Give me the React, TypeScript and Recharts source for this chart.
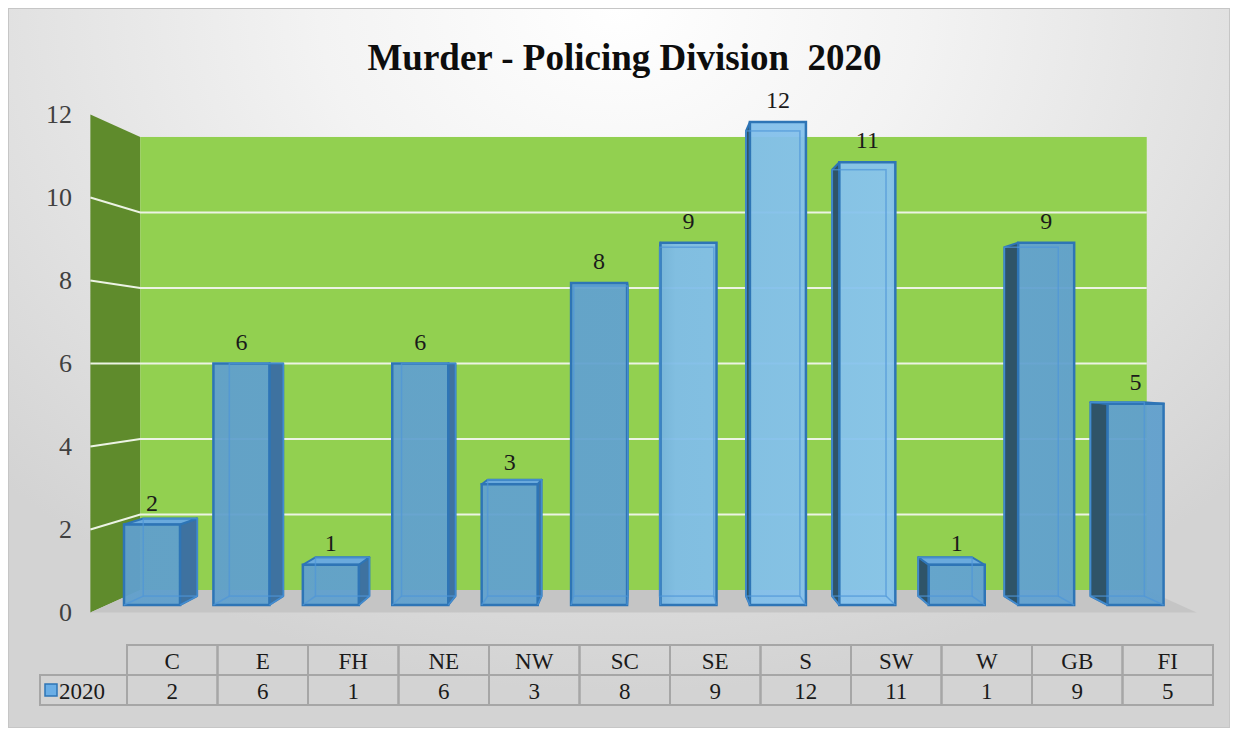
import React from 'react';
import { ComposedChart, Bar, XAxis, YAxis, LabelList, ReferenceArea } from 'recharts';

// Murder counts per policing division, 2020
const divisions = ['C', 'E', 'FH', 'NE', 'NW', 'SC', 'SE', 'S', 'SW', 'W', 'GB', 'FI'];
const murders2020 = [2, 6, 1, 6, 3, 8, 9, 12, 11, 1, 9, 5];
const yTicks = [0, 2, 4, 6, 8, 10, 12];
const seriesName = '2020';
const chartTitle = 'Murder - Policing Division  2020';

const data = divisions.map((division, i) => ({ division, value: murders2020[i] }));

// layout
const W = 1222;
const H = 720;
const MARGIN = { top: 114, right: 17, bottom: 0, left: 0 };
const Y_W = 99;
const X_H = 123;
const BAR_PAD_R = 33;
const TABLE_PAD_L = 20;

const BAR_LEFT = MARGIN.left + Y_W;
const BAR_RIGHT = W - MARGIN.right - BAR_PAD_R;
const PLOT_BOTTOM = H - MARGIN.bottom - X_H;
const CX = (BAR_LEFT + BAR_RIGHT) / 2;
const CY = (MARGIN.top + PLOT_BOTTOM) / 2;
const TABLE_LEFT = BAR_LEFT + TABLE_PAD_L;
const COL_W = (W - MARGIN.right - TABLE_LEFT) / divisions.length;

// perspective factors relative to the bar front plane
const FRONT = 1.031;
const BACK = 0.938;
const BAR_DEPTH = 0.963;

const FONT = 'Liberation Serif';

const persp = (x: number, y: number, k: number): [number, number] => [CX + (x - CX) * k, CY + (y - CY) * k];
const pts = (arr: [number, number][]) => arr.map((p) => p.join(',')).join(' ');
const ok = (v: any, fb: number) => (Number.isFinite(v) ? v : fb);

const Walls = (props: any) => {
  const x = ok(props.x, BAR_LEFT);
  const y = ok(props.y, MARGIN.top);
  const width = ok(props.width, BAR_RIGHT - BAR_LEFT);
  const height = ok(props.height, PLOT_BOTTOM - MARGIN.top);
  const fTL = persp(x, y, FRONT);
  const fBL = persp(x, y + height, FRONT);
  const fBR = persp(x + width, y + height, FRONT);
  const bTL = persp(x, y, BACK);
  const bTR = persp(x + width, y, BACK);
  const bBL = persp(x, y + height, BACK);
  const bBR = persp(x + width, y + height, BACK);
  return (
    <g>
      <defs>
        <linearGradient id="barFront" gradientUnits="userSpaceOnUse" x1={BAR_LEFT} x2={BAR_RIGHT} y1={0} y2={0}>
          <stop offset="0" stopColor="#609FCC" />
          <stop offset="0.49" stopColor="#62A2CF" />
          <stop offset="0.53" stopColor="#80BDE8" />
          <stop offset="0.73" stopColor="#88C4EE" />
          <stop offset="0.76" stopColor="#63A3D2" />
          <stop offset="1" stopColor="#609FCC" />
        </linearGradient>
      </defs>
      <polygon points={pts([fTL, bTL, bBL, fBL])} fill="#5F8B2C" />
      <rect x={bTL[0]} y={bTL[1]} width={bTR[0] - bTL[0]} height={bBL[1] - bTL[1]} fill="#92D050" />
      <polygon points={pts([fBL, bBL, bBR, fBR])} fill="#C5C5C5" />
      {yTicks
        .filter((v) => v > 0 && v < 12)
        .map((v) => {
          const yy = y + height * (1 - v / 12);
          const a = persp(x, yy, FRONT);
          const b = persp(x, yy, BACK);
          const c = persp(x + width, yy, BACK);
          return (
            <polyline key={v} points={pts([a, b, c])} fill="none" stroke="#ECF3E4" strokeWidth={2} />
          );
        })}
    </g>
  );
};

const Bar3D = (props: any) => {
  const { x, y, width, height } = props;
  if (!width || height == null) return null;
  const L = x;
  const R = x + width;
  const T = y;
  const B = y + height;
  const [bL, bT] = persp(L, T, BAR_DEPTH);
  const [bR, bB] = persp(R, B, BAR_DEPTH);
  const edge = '#2E75B6';
  return (
    <g>
      {bR > R && (
        <polygon points={pts([[R, T], [bR, bT], [bR, bB], [R, B]])} fill="#3E72A0" stroke={edge} strokeWidth={2} strokeLinejoin="round" />
      )}
      {bL < L && (
        <polygon points={pts([[L, T], [bL, bT], [bL, bB], [L, B]])} fill="#2F5468" stroke={edge} strokeWidth={2} strokeLinejoin="round" />
      )}
      {bT < T && (
        <polygon points={pts([[L, T], [R, T], [bR, bT], [bL, bT]])} fill="#6AAADD" stroke={edge} strokeWidth={2} strokeLinejoin="round" />
      )}
      <rect x={L} y={T} width={width} height={height} fill="url(#barFront)" fillOpacity={0.95} stroke={edge} strokeWidth={2.5} />
      <rect x={bL} y={bT} width={bR - bL} height={bB - bT} fill="none" stroke="#4F96D8" strokeOpacity={0.7} strokeWidth={1.5} />
      <line x1={L} y1={B} x2={bL} y2={bB} stroke="#4F96D8" strokeOpacity={0.7} strokeWidth={1.5} />
      <line x1={R} y1={B} x2={bR} y2={bB} stroke="#4F96D8" strokeOpacity={0.7} strokeWidth={1.5} />
    </g>
  );
};

const YTick = (props: any) => {
  const { y, payload } = props;
  const [, fy] = persp(0, y, FRONT);
  return (
    <text x={64} y={fy} textAnchor="end" dominantBaseline="central" style={{ fontFamily: FONT, fontSize: 26, fill: '#404040' }}>
      {payload.value}
    </text>
  );
};

const BarLabel = (props: any) => {
  const { x, y, width, value } = props;
  return (
    <text x={x + width / 2} y={y - 14} textAnchor="middle" style={{ fontFamily: FONT, fontSize: 24, fill: '#1A1A1A' }}>
      {value}
    </text>
  );
};

const TableCell = (props: any) => {
  const { x, y, payload, index } = props;
  const left = x - COL_W / 2;
  const border = '#A6A6A6';
  const txtStyle = { fontFamily: FONT, fontSize: 23, fill: '#1A1A1A' };
  return (
    <g>
      <rect x={left} y={y + 40} width={COL_W} height={30} fill="none" stroke={border} strokeWidth={2} />
      <rect x={left} y={y + 70} width={COL_W} height={30} fill="none" stroke={border} strokeWidth={2} />
      <text x={x} y={y + 56} textAnchor="middle" dominantBaseline="central" style={txtStyle}>{payload.value}</text>
      <text x={x} y={y + 86} textAnchor="middle" dominantBaseline="central" style={txtStyle}>{murders2020[index]}</text>
      {index === 0 && (
        <g>
          <rect x={32} y={y + 70} width={left - 32} height={30} fill="none" stroke={border} strokeWidth={2} />
          <rect x={37} y={y + 79} width={12} height={12} fill="#6AAEE6" stroke="#2E75B6" strokeWidth={1.5} />
          <text x={51} y={y + 86} textAnchor="start" dominantBaseline="central" style={txtStyle}>{seriesName}</text>
        </g>
      )}
    </g>
  );
};

export default function App() {
  return (
    <div
      style={{
        position: 'relative',
        width: W,
        height: H,
        background: 'radial-gradient(ellipse 70% 95% at 50% 0%, #ffffff 0%, #f3f3f3 35%, #d3d3d3 100%)',
        boxShadow: 'inset 0 0 0 1px #c6c6c6',
      }}
    >
      <div
        style={{
          position: 'absolute',
          top: 29,
          left: 0,
          width: W,
          paddingLeft: 11,
          boxSizing: 'border-box',
          textAlign: 'center',
          fontFamily: FONT,
          fontWeight: 'bold',
          fontSize: 37,
          lineHeight: '42px',
          color: '#0D0D0D',
          whiteSpace: 'pre',
        }}
      >
        {chartTitle}
      </div>
      <ComposedChart width={W} height={H} data={data} margin={MARGIN}>
        <XAxis xAxisId="bars" dataKey="division" hide height={0} padding={{ left: 0, right: BAR_PAD_R }} />
        <XAxis
          xAxisId="table"
          dataKey="division"
          height={X_H}
          padding={{ left: TABLE_PAD_L, right: 0 }}
          axisLine={false}
          tickLine={false}
          tickSize={0}
          tickMargin={0}
          interval={0}
          tick={<TableCell />}
        />
        <YAxis
          domain={[0, 12]}
          ticks={yTicks}
          width={Y_W}
          axisLine={false}
          tickLine={false}
          interval={0}
          tick={<YTick />}
        />
        <ReferenceArea xAxisId="bars" y1={0} y2={12} ifOverflow="visible" shape={<Walls />} />
        <Bar xAxisId="bars" dataKey="value" name={seriesName} barSize={56} shape={<Bar3D />} isAnimationActive={false}>
          <LabelList dataKey="value" content={<BarLabel />} />
        </Bar>
      </ComposedChart>
    </div>
  );
}
